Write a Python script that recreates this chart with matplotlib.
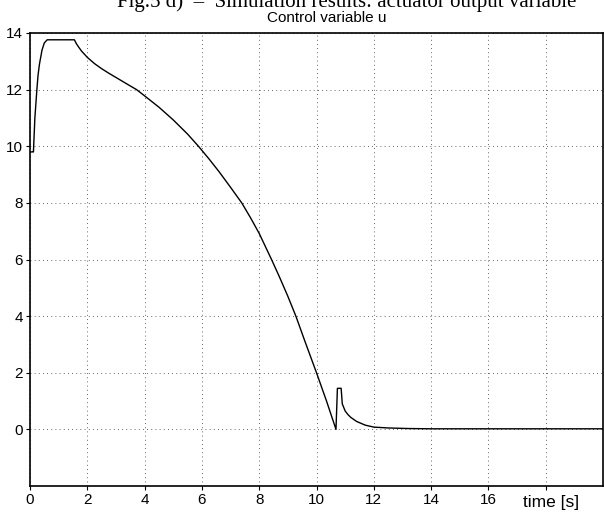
import matplotlib
matplotlib.use("Agg")
import matplotlib.pyplot as plt
import numpy as np

# Data
t = [0.0, 0.10, 0.12, 0.17, 0.24, 0.28, 0.33, 0.42, 0.50, 0.60, 1.55, 1.62, 1.70, 1.80,
     1.90, 2.00, 2.25, 2.50, 2.75, 3.00, 3.25, 3.50, 3.72, 4.00, 4.50, 5.00, 5.50, 5.88,
     6.25, 6.60, 7.00, 7.39, 7.70, 8.00, 8.43, 8.70, 9.00, 9.28, 9.60, 10.00, 10.35,
     10.68, 10.73, 10.86, 10.90, 11.00, 11.10, 11.20, 11.40, 11.70, 12.00, 12.50,
     13.20, 14.0, 16.0, 18.0, 20.0]
u = [9.80, 9.80, 9.80, 11.0, 12.0, 12.5, 12.9, 13.4, 13.65, 13.76, 13.76, 13.62, 13.50, 13.36,
     13.25, 13.14, 12.92, 12.74, 12.58, 12.43, 12.28, 12.13, 12.0, 11.78, 11.38, 10.93, 10.43, 10.0,
     9.55, 9.10, 8.55, 8.0, 7.47, 6.92, 6.0, 5.4, 4.7, 4.0, 3.1, 2.0, 1.0,
     0.0, 1.45, 1.45, 0.90, 0.65, 0.52, 0.42, 0.28, 0.15, 0.08, 0.05,
     0.03, 0.02, 0.02, 0.02, 0.02]
xticks = [0, 2, 4, 6, 8, 10, 12, 14, 16, 18]
xticklabels = ["0", "2", "4", "6", "8", "10", "12", "14", "16", ""]
yticks = [0, 2, 4, 6, 8, 10, 12, 14]

plt.rcParams['font.family'] = ['Liberation Sans', 'DejaVu Sans']

W, H = 604, 518
fig = plt.figure(figsize=(W / 100, H / 100), dpi=100)
ax = fig.add_axes([30 / W, 1 - 486 / H, (603 - 30) / W, (486 - 33) / H])

ax.plot(t, u, color='black', linewidth=1.0)
ax.set_xlim(0, 20)
ax.set_ylim(-2, 14)
ax.set_xticks(xticks)
ax.set_xticklabels(xticklabels)
ax.set_yticks(yticks)
ax.grid(True, linestyle=(0, (1, 4)), color='black', linewidth=0.6, alpha=0.8)
ax.tick_params(direction='out', length=3, width=0.8, labelsize=11, pad=2, colors='black')
for s in ax.spines.values():
    s.set_linewidth(1.2)
    s.set_color('black')

fig.text(551 / W, 1 - 503 / H, "time [s]", ha='center', va='center', fontsize=12.5)
fig.text(327 / W, 1 - 18 / H, "Control variable u", ha='center', va='center', fontsize=11)
fig.text(347 / W, 1 - 7 / H, "Fig.5 d)  \u2013  Simulation results: actuator output variable",
         ha='center', va='baseline', fontsize=15, family=['Liberation Serif', 'DejaVu Serif'])

fig.savefig("out.png", dpi=100)
